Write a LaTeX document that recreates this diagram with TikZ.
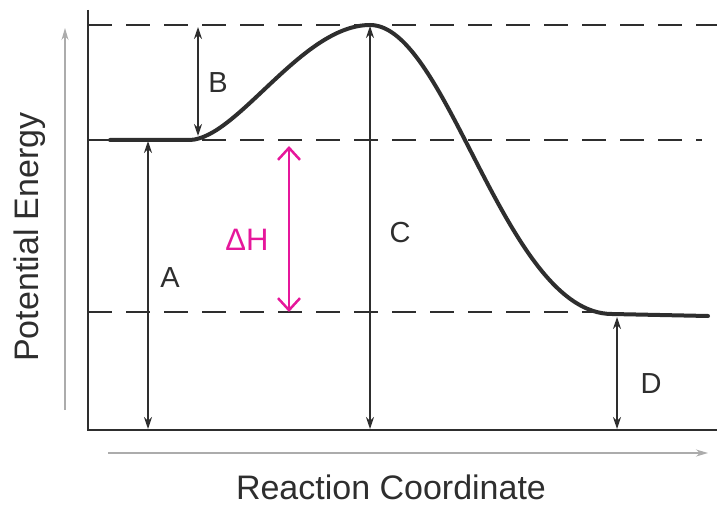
\documentclass[tikz,border=0pt]{standalone}
\usepackage{fontspec}
\setmainfont{Liberation Sans}
\usetikzlibrary{arrows.meta}
\definecolor{ink}{HTML}{2E2E2E}
\definecolor{hand}{HTML}{E6179B}
\begin{document}
\begin{tikzpicture}[x=1pt,y=-1pt,
  frame/.style={draw=ink, line width=2pt},
  guide/.style={draw=ink, line width=1.6pt, dash pattern=on 24pt off 14pt},
  curveline/.style={draw=ink, line width=4pt, line cap=round},
  dim/.style={draw=ink, line width=1.6pt, {Stealth[length=12pt,width=8pt]}-{Stealth[length=12pt,width=8pt]}},
  axisarrow/.style={draw=gray!65, line width=1.4pt, -{Stealth[length=12pt,width=7pt]}},
  lbl/.style={text=ink, font=\fontsize{29}{30}\selectfont, inner sep=0pt, anchor=base},
  axlbl/.style={text=ink, font=\fontsize{34}{36}\selectfont, inner sep=0pt, anchor=base},
  dh/.style={draw=hand, line width=2.5pt, line cap=round, {Straight Barb[length=12pt,width=22pt]}-{Straight Barb[length=12pt,width=22pt]}}
]
\useasboundingbox (0,0) rectangle (717,505);

% frame
\coordinate (ytop) at (88,10);
\coordinate (orig) at (88,430);
\coordinate (xend) at (717,430);
\draw[frame] (ytop) -- (orig) -- (xend);

% guide lines
\coordinate (g1a) at (88,25);  \coordinate (g1b) at (717,25);
\coordinate (g2a) at (88,140); \coordinate (g2b) at (702,140);
\coordinate (g3a) at (88,312); \coordinate (g3b) at (595,312);
\draw[guide] (g1a) -- (g1b);
\draw[guide] (g2a) -- (g2b);
\draw[guide] (g3a) -- (g3b);

% energy curve
\coordinate (c0) at (110,140);
\coordinate (c1) at (190,140);
\coordinate (peak) at (370,25);
\coordinate (c2) at (612,314);
\coordinate (c3) at (708,316);
\draw[curveline] (c0) -- (c1) .. controls (238,138) and (302,25) .. (peak)
  .. controls (448,25) and (505,314) .. (c2) -- (c3);

% dimension arrows
\coordinate (a1) at (148,141); \coordinate (a2) at (148,429);
\coordinate (b1) at (198,27);  \coordinate (b2) at (198,136);
\coordinate (k1) at (370,26);  \coordinate (k2) at (370,429);
\coordinate (d1) at (617,317); \coordinate (d2) at (617,429);
\draw[dim] (a1) -- (a2);
\draw[dim] (b1) -- (b2);
\draw[dim] (k1) -- (k2);
\draw[dim] (d1) -- (d2);

% Delta H
\coordinate (h1) at (289,146); \coordinate (h2) at (289,312);
\draw[dh] (h1) -- (h2);

% axis arrows
\coordinate (ya) at (65,410); \coordinate (yb) at (65,28);
\coordinate (xa) at (108,453); \coordinate (xb) at (708,453);
\draw[axisarrow] (ya) -- (yb);
\draw[axisarrow] (xa) -- (xb);

% labels
\node[lbl] (la) at (170,287) {A};
\node[lbl] (lb) at (218,93) {B};
\node[lbl] (lc) at (400,242) {C};
\node[lbl] (ld) at (651,393) {D};
\node[lbl, text=hand, font=\fontsize{31}{32}\selectfont] (ldh) at (247,250) {ΔH};
\node[axlbl] (xl) at (391,499) {Reaction Coordinate};
\node[axlbl, rotate=90] (yl) at (38,237) {Potential Energy};
\end{tikzpicture}
\end{document}
